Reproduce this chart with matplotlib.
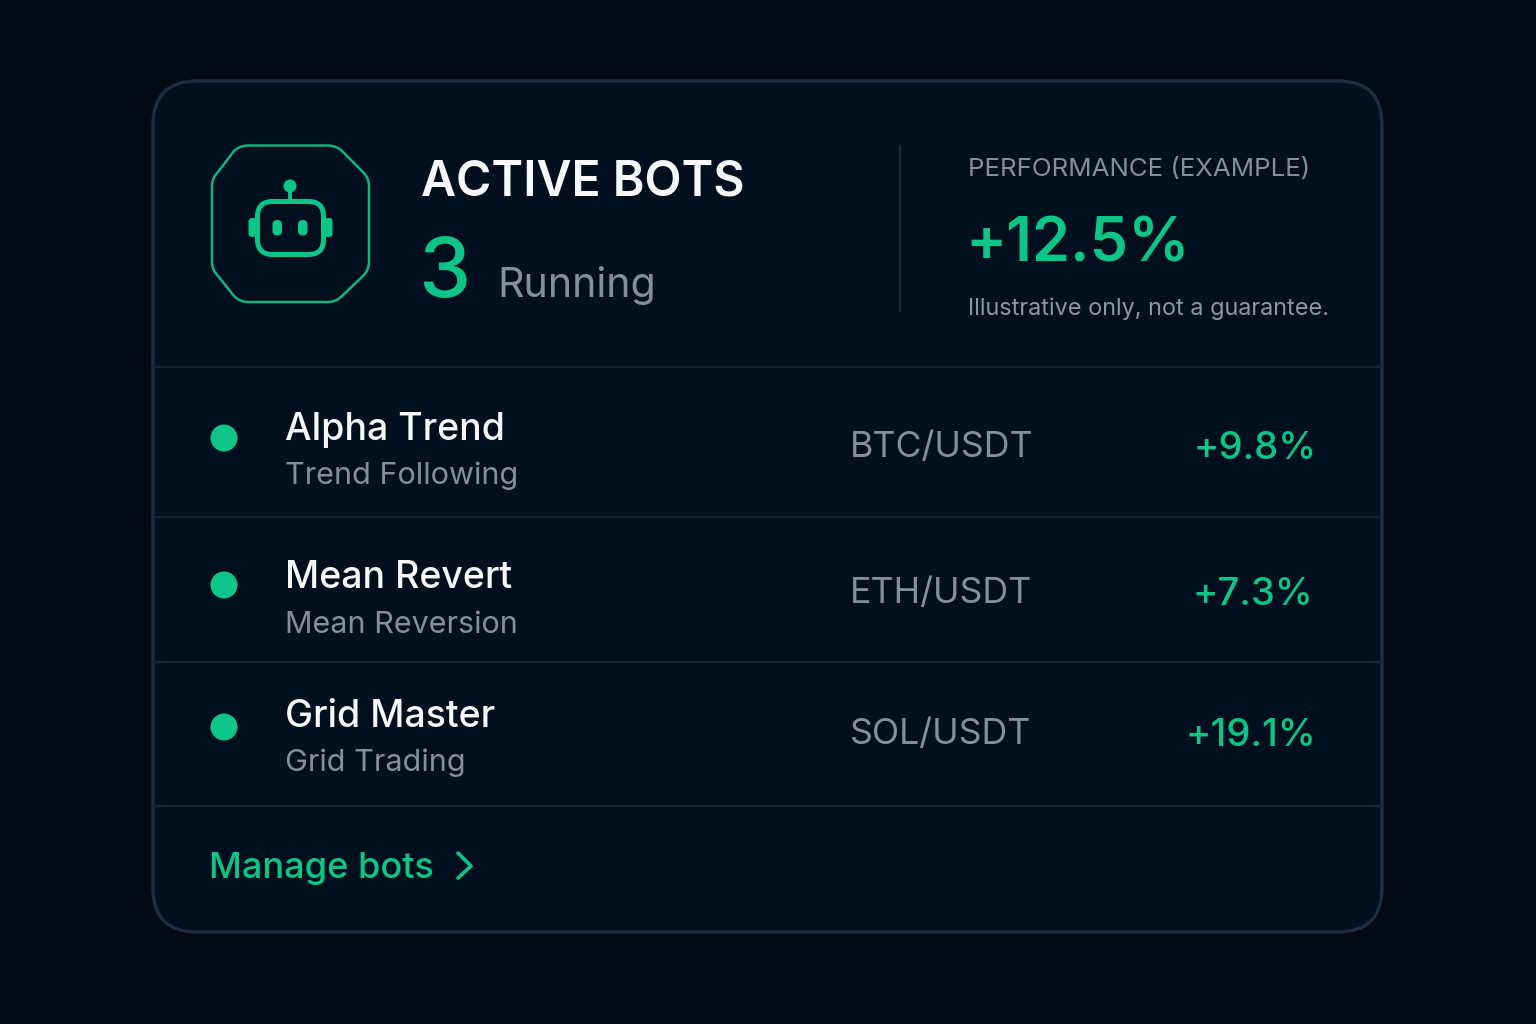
import matplotlib
matplotlib.use("Agg")
import matplotlib.pyplot as plt
from matplotlib.patches import FancyBboxPatch, Circle, PathPatch
from matplotlib.path import Path

plt.rcParams['font.family'] = ['Inter', 'DejaVu Sans']

# data
bots = ["Alpha Trend", "Mean Revert", "Grid Master"]
strategies = ["Trend Following", "Mean Reversion", "Grid Trading"]
pairs = ["BTC/USDT", "ETH/USDT", "SOL/USDT"]
returns = ["+9.8%", "+7.3%", "+19.1%"]
running = "3"
performance = "+12.5%"

# row positions in pixels
name_y = [440, 588, 727]
strat_y = [484, 633, 771]
pair_y = [457, 603, 744]
ret_y = [459, 605, 746]
ret_x = [1317, 1313, 1316]
dot_y = [438, 585, 727]
sep_y = [367, 517, 662, 806]

BG = "#020a14"
CARD = "#020f1e"
EDGE = "#1e2e41"
GREEN = "#0cc586"
WHITE = "#f6f8fa"
GREY = "#858f9c"

fig = plt.figure(figsize=(15.36, 10.24), dpi=100, facecolor=BG)
ax = fig.add_axes([0, 0, 1, 1])
ax.set_xlim(0, 1536)
ax.set_ylim(1024, 0)
ax.axis("off")

# card
card = FancyBboxPatch((153, 81), 1229, 851, boxstyle="round,pad=0,rounding_size=44",
                      fc=CARD, ec=EDGE, lw=2.4)
ax.add_patch(card)
for y in sep_y:
    ax.plot([154, 1381], [y, y], color="#16242f", lw=1.6)
ax.plot([900, 900], [146, 311], color="#1a2836", lw=1.6)

# octagon icon with rounded corners
verts = [(248, 145.5), (328, 145.5), (336, 145.5), (342, 151), (363, 172), (369, 178), (369, 186),
         (369, 262), (369, 270), (363, 276), (342, 296), (336, 302), (328, 302),
         (248, 302), (240, 302), (234, 296), (218, 276), (212, 270), (212, 262),
         (212, 186), (212, 178), (218, 172), (234, 151), (240, 145.5), (248, 145.5)]
codes = [Path.MOVETO, Path.LINETO, Path.CURVE3, Path.CURVE3, Path.LINETO, Path.CURVE3, Path.CURVE3,
         Path.LINETO, Path.CURVE3, Path.CURVE3, Path.LINETO, Path.CURVE3, Path.CURVE3,
         Path.LINETO, Path.CURVE3, Path.CURVE3, Path.LINETO, Path.CURVE3, Path.CURVE3,
         Path.LINETO, Path.CURVE3, Path.CURVE3, Path.LINETO, Path.CURVE3, Path.CURVE3]
ax.add_patch(PathPatch(Path(verts, codes), fc="none", ec="#0fb57d", lw=1.8))

# robot
ax.add_patch(FancyBboxPatch((257.5, 201.5), 66, 53, boxstyle="round,pad=0,rounding_size=15",
                            fc="none", ec=GREEN, lw=3.6))
ax.add_patch(Circle((290, 186), 6.5, fc=GREEN, ec="none"))
ax.plot([290, 290], [190, 202], color=GREEN, lw=2.8)
ax.add_patch(FancyBboxPatch((248.5, 218), 8, 19, boxstyle="round,pad=0,rounding_size=3.5", fc=GREEN, ec="none"))
ax.add_patch(FancyBboxPatch((324.5, 218), 8, 19, boxstyle="round,pad=0,rounding_size=3.5", fc=GREEN, ec="none"))
ax.add_patch(FancyBboxPatch((272.5, 220), 9.5, 15.5, boxstyle="round,pad=0,rounding_size=4.6", fc=GREEN, ec="none"))
ax.add_patch(FancyBboxPatch((298, 220), 9.5, 15.5, boxstyle="round,pad=0,rounding_size=4.6", fc=GREEN, ec="none"))

# header
ax.text(421, 195, "ACTIVE BOTS", color=WHITE, fontsize=34.7, fontweight="semibold", va="baseline")
ax.text(418, 297, running, color=GREEN, fontsize=60, fontweight="medium", va="baseline")
ax.text(497, 297, "Running", color=GREY, fontsize=29.7, va="baseline")
ax.text(968, 176, "PERFORMANCE (EXAMPLE)", color=GREY, fontsize=18.6, va="baseline")
ax.text(965, 261, performance, color=GREEN, fontsize=44, fontweight="semibold", va="baseline")
ax.text(968, 315, "Illustrative only, not a guarantee.", color="#8d97a3", fontsize=16.9, va="baseline")

# rows
for i in range(len(bots)):
    ax.add_patch(Circle((224, dot_y[i]), 13.5, fc=GREEN, ec="none"))
    ax.text(285, name_y[i], bots[i], color=WHITE, fontsize=27, fontweight="medium", va="baseline")
    ax.text(285, strat_y[i], strategies[i], color=GREY, fontsize=22, va="baseline")
    ax.text(850, pair_y[i], pairs[i], color=GREY, fontsize=25.7, va="baseline")
    ax.text(ret_x[i], ret_y[i], returns[i], color=GREEN, fontsize=27.5, fontweight="medium", ha="right", va="baseline")

# footer
ax.text(209, 878, "Manage bots", color=GREEN, fontsize=26, fontweight="medium", va="baseline")
ax.plot([458, 471, 458], [853, 866, 878], color=GREEN, lw=2.6,
        solid_capstyle="round", solid_joinstyle="round")

fig.savefig("out.png", dpi=100, facecolor=BG)
